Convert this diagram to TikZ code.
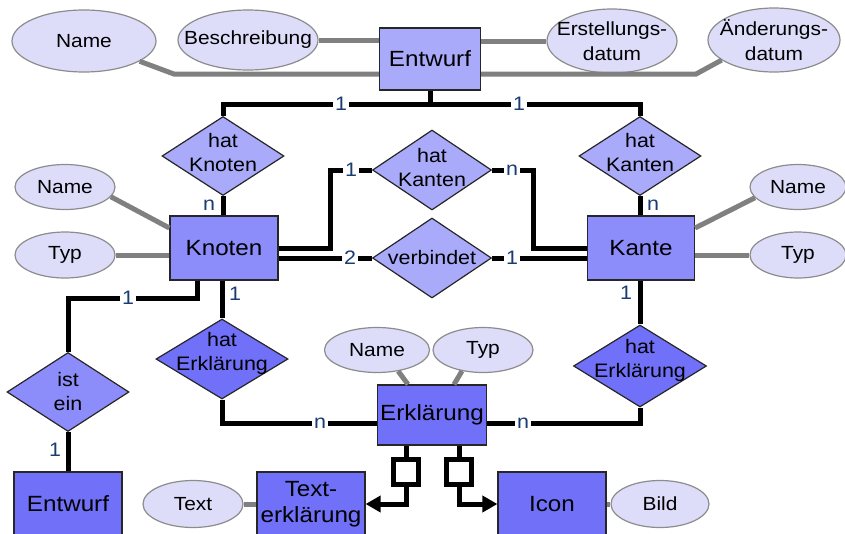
\documentclass[tikz,border=0pt]{standalone}
\usepackage{fontspec}
\setmainfont[FakeStretch=1.1]{Liberation Sans}
\usetikzlibrary{shapes.geometric,arrows.meta,calc}

\definecolor{entlight}{RGB}{170,170,250}
\definecolor{entmid}{RGB}{140,140,250}
\definecolor{entdark}{RGB}{112,112,248}
\definecolor{attrfill}{RGB}{221,221,250}
\definecolor{cardblue}{RGB}{25,60,115}
\definecolor{attrline}{RGB}{128,128,128}

\begin{document}
\begin{tikzpicture}[x=1pt,y=-1pt,
  entity/.style={draw=black!85,line width=1.2pt,inner sep=0pt,align=center,
    font=\fontsize{22}{26}\selectfont},
  attr/.style={ellipse,draw=black!45,line width=1.2pt,fill=attrfill,inner sep=0pt},
  atxt/.style={font=\fontsize{19}{25}\selectfont,align=center,inner sep=0pt},
  rel/.style={diamond,draw=black!85,line width=1.2pt,inner sep=0pt},
  rtxt/.style={font=\fontsize{19.5}{24}\selectfont,align=center,inner sep=0pt},
  conn/.style={line width=5pt},
  attrconn/.style={line width=5pt,draw=attrline},
  card/.style={font=\fontsize{19.5}{19.5}\selectfont,text=cardblue,inner sep=2pt},
  cardbg/.style={card,fill=white},
  isabox/.style={draw,line width=5pt,fill=white,minimum size=25pt,inner sep=0pt}
]
\clip (0,0) rectangle (845,533);

% entities
\node[entity,fill=entlight,minimum width=101pt,minimum height=62pt] (E0) at (430,59) {Entwurf};
\node[entity,fill=entmid,minimum width=108pt,minimum height=64pt] (Kn) at (224,248) {Knoten};
\node[entity,fill=entmid,minimum width=107pt,minimum height=64pt] (Kt) at (641,248) {Kante};
\node[entity,fill=entdark,minimum width=109pt,minimum height=60pt] (Er) at (432,415) {Erklärung};
\node[entity,fill=entdark,minimum width=108pt,minimum height=64pt] (En2) at (68,504) {Entwurf};
\node[entity,fill=entdark,minimum width=108pt,minimum height=64pt] (TE) at (311,504) {Text-\\erklärung};
\node[entity,fill=entdark,minimum width=108pt,minimum height=64pt] (Ic) at (552,504) {Icon};

% attributes
\node[attr,minimum width=144pt,minimum height=62pt,label={[atxt]center:Name}] (aN) at (84,41) {};
\node[attr,minimum width=140pt,minimum height=60pt,label={[atxt]center:Beschreibung}] (aB) at (248,40) {};
\node[attr,minimum width=130pt,minimum height=64pt,label={[atxt]center:Erstellungs-\\datum}] (aC) at (612,41) {};
\node[attr,minimum width=132pt,minimum height=64pt,label={[atxt]center:Änderungs-\\datum}] (aM) at (774,40) {};
\node[attr,minimum width=100pt,minimum height=45pt,label={[atxt]center:Name}] (kN) at (65,187) {};
\node[attr,minimum width=100pt,minimum height=46pt,label={[atxt]center:Typ}] (kT) at (65,255) {};
\node[attr,minimum width=96pt,minimum height=45pt,label={[atxt]center:Name}] (tN) at (798,187) {};
\node[attr,minimum width=96pt,minimum height=46pt,label={[atxt]center:Typ}] (tT) at (798,255) {};
\node[attr,minimum width=105pt,minimum height=45pt,label={[atxt]center:Name}] (xN) at (377,350) {};
\node[attr,minimum width=100pt,minimum height=45pt,label={[atxt]center:Typ}] (xT) at (483,350) {};
\node[attr,minimum width=100pt,minimum height=47pt,label={[atxt]center:Text}] (tx) at (193,504) {};
\node[attr,minimum width=98pt,minimum height=47pt,label={[atxt]center:Bild}] (bd) at (660,504) {};

% relationships
\node[rel,fill=entlight,minimum width=122pt,minimum height=79pt,label={[rtxt,yshift=3pt]center:hat\\Knoten}] (hk) at (223,156) {};
\node[rel,fill=entlight,minimum width=122pt,minimum height=79pt,label={[rtxt,yshift=3pt]center:hat\\Kanten}] (hkr) at (640,156) {};
\node[rel,fill=entlight,minimum width=119pt,minimum height=80pt,label={[rtxt,yshift=2pt]center:hat\\Kanten}] (hkm) at (432,170) {};
\node[rel,fill=entlight,minimum width=119pt,minimum height=80pt,label={[rtxt]center:verbindet}] (vb) at (432,258) {};
\node[rel,fill=entmid,minimum width=122pt,minimum height=79pt,label={[rtxt]center:ist\\ein}] (ie) at (68,392) {};
\node[rel,fill=entdark,minimum width=132pt,minimum height=80pt,label={[rtxt,yshift=6pt]center:hat\\Erklärung}] (he1) at (222,359) {};
\node[rel,fill=entdark,minimum width=133pt,minimum height=82pt,label={[rtxt,yshift=6pt]center:hat\\Erklärung}] (he2) at (640,366) {};

% specialisation boxes
\node[isabox] (sq1) at (406,472) {};
\node[isabox] (sq2) at (459,472) {};

% relationship connectors
\coordinate (bus) at (430,104);
\draw[conn] (E0.south) -- (E0.south |- bus);
\draw[conn] (hk.north) -- (hk.north |- bus) -- (hkr.north |- bus) -- (hkr.north);
\draw[conn] (hk.south) -- (hk.south |- Kn.north);
\draw[conn] (hkr.south) -- (hkr.south |- Kt.north);
\draw[conn] (Kn.east) -- ++(52,0) |- (hkm.west);
\draw[conn] (hkm.east) -| ([xshift=-53pt]Kt.west) -- (Kt.west);
\draw[conn] ([yshift=-10pt]Kn.east) -- (vb.west);
\draw[conn] (vb.east) -- ([yshift=-10pt]Kt.west);
\draw[conn] ([xshift=-27pt]Kn.south) -- ++(0,18) -| (ie.north);
\draw[conn] (ie.south) -- (ie.south |- En2.north);
\draw[conn] (he1.north |- Kn.south) -- (he1.north);
\draw[conn] (he1.south) |- ([yshift=-8pt]Er.west);
\draw[conn] ([yshift=-8pt]Er.east) -| (he2.south);
\draw[conn] (he2.north |- Kt.south) -- (he2.north);
\draw[conn] (sq1.north |- Er.south) -- (sq1.north);
\draw[conn] (sq2.north |- Er.south) -- (sq2.north);
\draw[conn,-{Triangle[length=15pt,width=16pt]}] (sq1.south) |- (TE.east);
\draw[conn,-{Triangle[length=15pt,width=16pt]}] (sq2.south) |- (Ic.west);

% attribute connectors
\draw[attrconn] (aN.-20) -- ([xshift=-205pt,yshift=-15pt]E0.west) -- ([yshift=-15pt]E0.west);
\draw[attrconn] (aB.east) -- (aB.east -| E0.west);
\draw[attrconn] (aC.west) -- (aC.west -| E0.east);
\draw[attrconn] ([yshift=-15pt]E0.east) -- ([xshift=215pt,yshift=-15pt]E0.east) -- (aM.201);
\draw[attrconn] (kN.-12) -- ([yshift=20pt]Kn.west);
\draw[attrconn] (kT.east) -- (kT.east -| Kn.west);
\draw[attrconn] ([yshift=20pt]Kt.east) -- (tN.194);
\draw[attrconn] (tT.west) -- (tT.west -| Kt.east);
\draw[attrconn] (xN.-45) -- ([xshift=-24pt]Er.north);
\draw[attrconn] (xT.-135) -- ([xshift=22pt]Er.north);
\draw[attrconn] (tx.east) -- (tx.east -| TE.west);
\draw[attrconn] (Ic.east) -- (bd.west);

% cardinalities
\node[cardbg] (c1) at (341,104) {1};
\node[cardbg] (c2) at (519,104) {1};
\node[card] (c3) at (209,205) {n};
\node[card] (c4) at (653,205) {n};
\node[cardbg] (c5) at (351,170) {1};
\node[cardbg] (c6) at (512,170) {n};
\node[cardbg] (c7) at (350,258) {2};
\node[cardbg] (c8) at (512,258) {1};
\node[cardbg] (c9) at (128,298) {1};
\node[card] (c10) at (235,294) {1};
\node[card] (c11) at (55,450) {1};
\node[cardbg] (c12) at (320,423) {n};
\node[cardbg] (c13) at (523,423) {n};
\node[card] (c14) at (626,293) {1};
\end{tikzpicture}
\end{document}
